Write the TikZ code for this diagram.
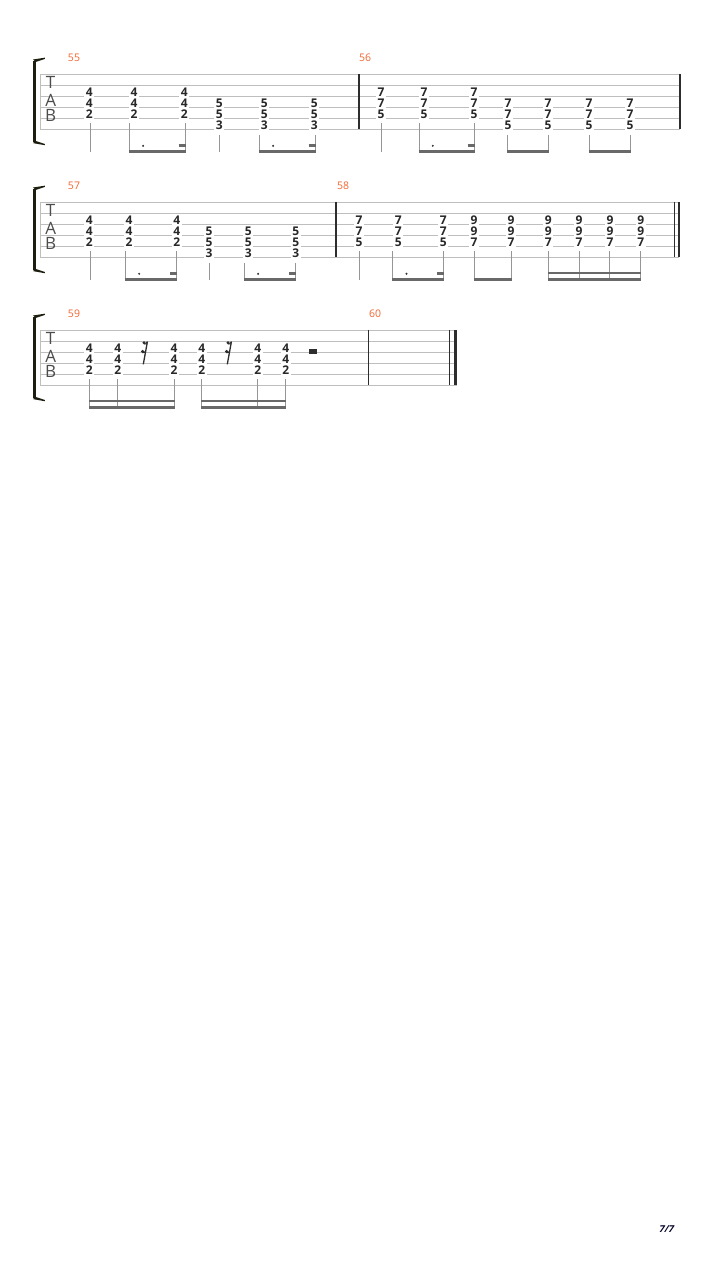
\documentclass[tikz,border=0pt]{standalone}
\usepackage{fontspec}
\setmainfont{Open Sans}
\newfontfamily\pagefont[FakeSlant=0.25]{Open Sans}
\definecolor{staffgray}{RGB}{190,190,190}
\definecolor{stemgray}{RGB}{150,150,150}
\definecolor{beamgray}{RGB}{105,105,105}
\definecolor{barcol}{RGB}{45,45,45}
\definecolor{fretcol}{RGB}{40,40,40}
\definecolor{numorange}{RGB}{242,101,50}
\definecolor{brk}{RGB}{30,30,15}
\newcommand\TChord[7]{%
  \node[fret] (#1a) at (#2,{#3+(#4-1)*11+0.6}) {#5};
  \node[fret] (#1b) at (#2,{#3+#4*11+0.6}) {#6};
  \node[fret] (#1c) at (#2,{#3+(#4+1)*11+0.6}) {#7};}
\newcommand\StemAt[3]{\draw[stemline] (#1,#2) -- (#1,#3);}
\newcommand\BeamAt[3]{\draw[beamline] ({#1-0.5},#3) -- ({#2+0.5},#3);}
\newcommand\StaffSys[3]{% S, right end, name
  \foreach \k in {0,...,5} {\draw[staffline] (40.3,{#1+11*\k}) -- (#2,{#1+11*\k});}
  \draw[staffline] (40.3,#1) -- (40.3,{#1+55});
  \draw[line width=2.6pt,brk] (34.3,{#1-13.5}) -- (34.3,{#1+67.5});
  \fill[brk] (33,{#1-14.8}) -- (44.8,{#1-16.6}) -- (44.8,{#1-15.4}) .. controls (40,{#1-13.8}) .. (35.6,{#1-12.3}) -- cycle;
  \fill[brk] (33,{#1+68.8}) -- (44.8,{#1+70.9}) -- (44.8,{#1+69.7}) .. controls (40,{#1+68.1}) .. (35.6,{#1+66.6}) -- cycle;
  \node[tabl] (#3T) at (50.7,{#1+14}) {T};
  \node[tabl] (#3A) at (50.7,{#1+32.2}) {A};
  \node[tabl] (#3B) at (50.7,{#1+47.4}) {B};}
\newcommand\BarAt[2]{\draw[barl] (#1,#2) -- (#1,{#2+55});}
\newcommand\SixRest[2]{%
  \draw[line width=1.3pt,barcol] ({#1+2.4},{#2+11.4}) -- ({#1-1.7},{#2+34});
  \fill[barcol] ({#1-0.9},{#2+12.5}) circle (1.7);
  \draw[line width=1pt,barcol] ({#1-0.9},{#2+13.6}) .. controls ({#1+0.8},{#2+14}) .. ({#1+2.4},{#2+11.4});
  \fill[barcol] ({#1-2.4},{#2+21.2}) circle (1.7);
  \draw[line width=1pt,barcol] ({#1-2.4},{#2+22.3}) .. controls ({#1-0.6},{#2+22.6}) .. ({#1+0.7},{#2+20.4});}
\begin{document}
\begin{tikzpicture}[x=1pt,y=-1pt,
  staffline/.style={draw=staffgray,line width=0.9pt},
  barl/.style={draw=barcol,line width=1.2pt},
  stemline/.style={draw=stemgray,line width=1pt},
  beamline/.style={draw=beamgray,line width=2.5pt},
  fret/.style={font=\fontsize{12}{13}\selectfont\bfseries,text=fretcol,fill=white,inner xsep=1.6pt,inner ysep=0.6pt,anchor=base},
  mnum/.style={font=\fontsize{10.5}{11}\selectfont,text=numorange,anchor=center,inner sep=0pt},
  tabl/.style={font=\fontsize{17}{18}\selectfont,text=barcol!85,anchor=base,inner sep=0pt,text height=12pt,text depth=0pt},
  dotn/.style={fill=barcol}]
\useasboundingbox[fill=white] (0,0) rectangle (720,1280);
% ===== System 1 =====
\def\S{74.3}
\StaffSys{\S}{680}{sa}
\node[mnum] (m55) at (74,{\S-16.6}) {55};
\node[mnum] (m56) at (365,{\S-16.6}) {56};
\BarAt{359}{\S}
\BarAt{680}{\S}
% measure 55
\TChord{a1}{89.3}{\S}{3}{4}{4}{2}
\TChord{a2}{134}{\S}{3}{4}{4}{2}
\TChord{a3}{184.3}{\S}{3}{4}{4}{2}
\TChord{a4}{219.3}{\S}{4}{5}{5}{3}
\TChord{a5}{264.3}{\S}{4}{5}{5}{3}
\TChord{a6}{314.3}{\S}{4}{5}{5}{3}
\StemAt{90}{\S+49}{\S+78}
\StemAt{129.3}{\S+49}{\S+78.5}
\StemAt{185}{\S+49}{\S+78.5}
\StemAt{219.5}{\S+60.5}{\S+78}
\StemAt{259.3}{\S+60.5}{\S+78.5}
\StemAt{315}{\S+60.5}{\S+78.5}
\BeamAt{129.3}{185}{\S+77.3}
\BeamAt{259.3}{315}{\S+77.3}
\draw[beamline] (178.5,{\S+71.3}) -- (185.5,{\S+71.3});
\draw[beamline] (308.5,{\S+71.3}) -- (315.5,{\S+71.3});
\fill[dotn] (143.1,{\S+71.5}) circle (1.1);
\fill[dotn] (273.1,{\S+71.5}) circle (1.1);
% measure 56
\TChord{b1}{381}{\S}{3}{7}{7}{5}
\TChord{b2}{424}{\S}{3}{7}{7}{5}
\TChord{b3}{474}{\S}{3}{7}{7}{5}
\TChord{b4}{508}{\S}{4}{7}{7}{5}
\TChord{b5}{548}{\S}{4}{7}{7}{5}
\TChord{b6}{589}{\S}{4}{7}{7}{5}
\TChord{b7}{630}{\S}{4}{7}{7}{5}
\StemAt{381}{\S+49}{\S+78}
\StemAt{419}{\S+49}{\S+78.5}
\StemAt{474}{\S+49}{\S+78.5}
\StemAt{507.5}{\S+60.5}{\S+78.5}
\StemAt{548.5}{\S+60.5}{\S+78.5}
\StemAt{589.3}{\S+60.5}{\S+78.5}
\StemAt{630}{\S+60.5}{\S+78.5}
\BeamAt{419}{474}{\S+77.3}
\BeamAt{507.5}{548.5}{\S+77.3}
\BeamAt{589.3}{630}{\S+77.3}
\draw[beamline] (467.5,{\S+71.3}) -- (474.5,{\S+71.3});
\fill[dotn] (432.8,{\S+71.5}) circle (1.1);
% ===== System 2 =====
\def\S{202.3}
\StaffSys{\S}{679}{sb}
\node[mnum] (m57) at (74,{\S-16.6}) {57};
\node[mnum] (m58) at (343,{\S-16.6}) {58};
\BarAt{336}{\S}
\BarAt{674.3}{\S}
\BarAt{679}{\S}
% measure 57
\TChord{c1}{89.3}{\S}{3}{4}{4}{2}
\TChord{c2}{129}{\S}{3}{4}{4}{2}
\TChord{c3}{176.7}{\S}{3}{4}{4}{2}
\TChord{c4}{209}{\S}{4}{5}{5}{3}
\TChord{c5}{248.3}{\S}{4}{5}{5}{3}
\TChord{c6}{295.7}{\S}{4}{5}{5}{3}
\StemAt{90}{\S+49}{\S+78}
\StemAt{125.2}{\S+49}{\S+78.5}
\StemAt{176.7}{\S+49}{\S+78.5}
\StemAt{209}{\S+60.5}{\S+78}
\StemAt{244.3}{\S+60.5}{\S+78.5}
\StemAt{295.7}{\S+60.5}{\S+78.5}
\BeamAt{125.2}{176.7}{\S+77.3}
\BeamAt{244.3}{295.7}{\S+77.3}
\draw[beamline] (170.2,{\S+71.3}) -- (177.2,{\S+71.3});
\draw[beamline] (289.2,{\S+71.3}) -- (296.2,{\S+71.3});
\fill[dotn] (139.2,{\S+71.5}) circle (1.1);
\fill[dotn] (258.1,{\S+71.5}) circle (1.1);
% measure 58
\TChord{d1}{359}{\S}{3}{7}{7}{5}
\TChord{d2}{398.3}{\S}{3}{7}{7}{5}
\TChord{d3}{443.3}{\S}{3}{7}{7}{5}
\TChord{d4}{474}{\S}{3}{9}{9}{7}
\TChord{d5}{511}{\S}{3}{9}{9}{7}
\TChord{d6}{548.3}{\S}{3}{9}{9}{7}
\TChord{d7}{579}{\S}{3}{9}{9}{7}
\TChord{d8}{610}{\S}{3}{9}{9}{7}
\TChord{d9}{640.7}{\S}{3}{9}{9}{7}
\StemAt{359}{\S+49}{\S+78}
\foreach \xx in {392.7,443.3,474,511,548.3,579,609.5,640.7} {\StemAt{\xx}{\S+49}{\S+78.5}}
\BeamAt{392.7}{443.3}{\S+77.3}
\draw[beamline] (436.8,{\S+71.3}) -- (443.8,{\S+71.3});
\fill[dotn] (406.5,{\S+71.5}) circle (1.1);
\BeamAt{474}{511}{\S+77.3}
\BeamAt{548.3}{640.7}{\S+77.3}
\BeamAt{548.3}{640.7}{\S+70.6}
% ===== System 3 =====
\def\S{330.3}
\StaffSys{\S}{456.5}{sc}
\node[mnum] (m59) at (74,{\S-16.4}) {59};
\node[mnum] (m60) at (375,{\S-16.4}) {60};
\BarAt{368.3}{\S}
\BarAt{449.3}{\S}
\draw[draw=barcol,line width=3pt] (455,\S) -- (455,{\S+55});
\TChord{e1}{89.3}{\S}{3}{4}{4}{2}
\TChord{e2}{117.7}{\S}{3}{4}{4}{2}
\TChord{e3}{174}{\S}{3}{4}{4}{2}
\TChord{e4}{201.7}{\S}{3}{4}{4}{2}
\TChord{e5}{257.7}{\S}{3}{4}{4}{2}
\TChord{e6}{285.7}{\S}{3}{4}{4}{2}
\foreach \xx in {89.8,117.7,174,201.7,257.7,285.7} {\StemAt{\xx}{\S+49}{\S+78.5}}
\BeamAt{89.8}{174}{\S+77.3}
\BeamAt{89.8}{174}{\S+70.6}
\BeamAt{201.7}{285.7}{\S+77.3}
\BeamAt{201.7}{285.7}{\S+70.6}
\SixRest{145}{\S}
\SixRest{229}{\S}
\fill[barcol] (309.3,{\S+19}) rectangle (317.3,{\S+23.7});
% page number
\node[font=\pagefont\bfseries\fontsize{9.5}{10}\selectfont,text=black!85!blue,inner sep=0pt] (pg) at (666,1229) {7/7};
\end{tikzpicture}
\end{document}
